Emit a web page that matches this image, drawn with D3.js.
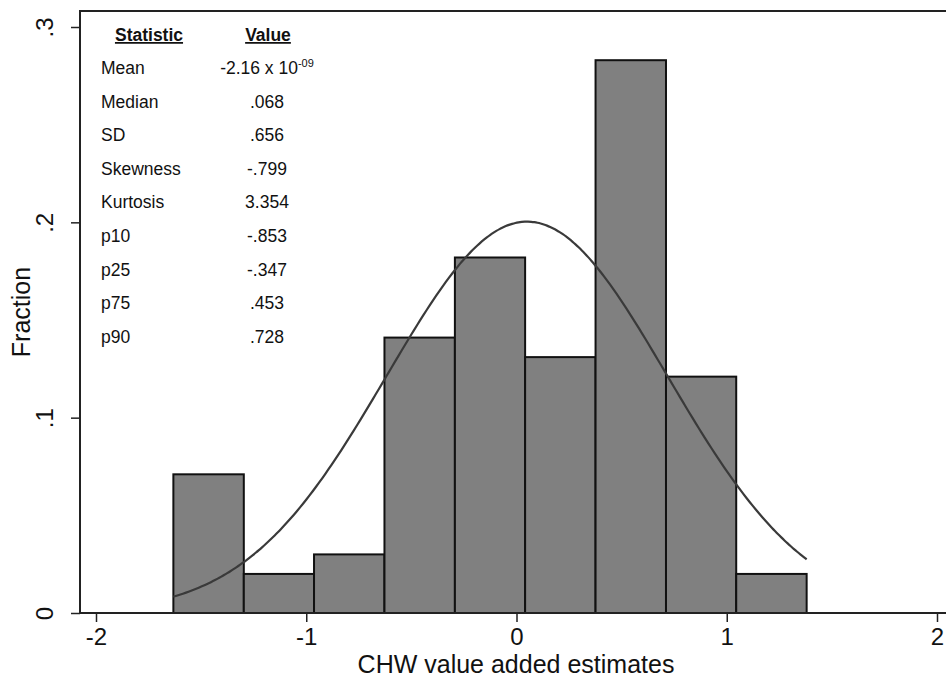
<!DOCTYPE html>
<html>
<head>
<meta charset="utf-8">
<script src="https://cdn.jsdelivr.net/npm/d3@7"></script>
<style>
  html, body { margin: 0; padding: 0; background: #fff; }
  svg { display: block; font-family: "Liberation Sans", Arial, Helvetica, sans-serif; }
</style>
</head>
<body>
<svg id="chart" width="946" height="681"></svg>
<script>
// Histogram bins (edges) and the fraction of observations in each bin
const binEdges = [-1.632, -1.297, -0.963, -0.628, -0.293, 0.041, 0.376, 0.711, 1.045, 1.380];
const fractions = [0.071, 0.020, 0.030, 0.141, 0.182, 0.131, 0.283, 0.121, 0.020];

// Normal density overlay parameters
const curveMean = 0.05;
const curveSD = 0.667;

// Axis ticks
const xTicks = [-2, -1, 0, 1, 2];
const xTickLabels = ["-2", "-1", "0", "1", "2"];
const yTicks = [0, 0.1, 0.2, 0.3];
const yTickLabels = ["0", ".1", ".2", ".3"];

// Summary statistics table
const statNames = ["Mean", "Median", "SD", "Skewness", "Kurtosis", "p10", "p25", "p75", "p90"];
const statValues = ["-2.16 x 10", ".068", ".656", "-.799", "3.354", "-.853", "-.347", ".453", ".728"];
const statExponents = ["-09", "", "", "", "", "", "", "", ""];

const svg = d3.select("#chart");
const W = 946, H = 681;
const frameLeft = 80, frameTop = 11, frameBottom = 613;

const x = d3.scaleLinear().domain([-2, 2]).range([96, 937]);
const y = d3.scaleLinear().domain([0, 0.3]).range([frameBottom, 27]);

// Bars
const bins = fractions.map((f, i) => ({ x0: binEdges[i], x1: binEdges[i + 1], f }));
svg.append("g").selectAll("rect").data(bins).join("rect")
  .attr("x", d => x(d.x0))
  .attr("y", d => y(d.f))
  .attr("width", d => x(d.x1) - x(d.x0))
  .attr("height", d => y(0) - y(d.f))
  .attr("fill", "#808080")
  .attr("stroke", "#111")
  .attr("stroke-width", 2);

// Normal curve scaled to the bin width, over the histogram's range
const bw = binEdges[1] - binEdges[0];
const lo = binEdges[0], hi = binEdges[binEdges.length - 1];
const curvePts = d3.range(0, 201).map(i => {
  const v = lo + (hi - lo) * i / 200;
  const z = (v - curveMean) / curveSD;
  return [v, bw * Math.exp(-0.5 * z * z) / (curveSD * Math.sqrt(2 * Math.PI))];
});
svg.append("path")
  .datum(curvePts)
  .attr("fill", "none")
  .attr("stroke", "#3a3a3a")
  .attr("stroke-width", 2.2)
  .attr("d", d3.line().x(d => x(d[0])).y(d => y(d[1])).curve(d3.curveBasis));

// Plot frame
svg.append("path")
  .attr("d", `M${W + 10},${frameTop}H${frameLeft}V${frameBottom}H${W + 10}`)
  .attr("fill", "none")
  .attr("stroke", "#222")
  .attr("stroke-width", 2);

// X axis
const xAxis = d3.axisBottom(x).tickValues(xTicks).tickSize(9).tickPadding(6)
  .tickFormat((d, i) => xTickLabels[i]);
const gx = svg.append("g").attr("transform", `translate(0,${frameBottom})`).call(xAxis);
gx.select(".domain").remove();
gx.selectAll(".tick line").attr("stroke", "#222").attr("stroke-width", 1.5);
gx.selectAll(".tick text").attr("font-size", 24).attr("fill", "#111")
  .attr("font-family", "'Liberation Sans', Arial, sans-serif");

// Y axis, labels rotated
const yAxis = d3.axisLeft(y).tickValues(yTicks).tickSize(9).tickPadding(0)
  .tickFormat((d, i) => yTickLabels[i]);
const gy = svg.append("g").attr("transform", `translate(${frameLeft},0)`).call(yAxis);
gy.select(".domain").remove();
gy.selectAll(".tick line").attr("stroke", "#222").attr("stroke-width", 1.5);
gy.selectAll(".tick text")
  .attr("x", null).attr("dy", null)
  .attr("transform", "translate(-27,0) rotate(-90)")
  .attr("text-anchor", "middle")
  .attr("font-size", 24).attr("fill", "#111")
  .attr("font-family", "'Liberation Sans', Arial, sans-serif");

// Axis titles
svg.append("text")
  .attr("x", 516).attr("y", 673)
  .attr("text-anchor", "middle")
  .attr("font-size", 25).attr("fill", "#111")
  .text("CHW value added estimates");
svg.append("text")
  .attr("transform", "translate(30,312) rotate(-90)")
  .attr("text-anchor", "middle")
  .attr("font-size", 25).attr("fill", "#111")
  .text("Fraction");

// Statistics table
const tbl = svg.append("g").attr("font-size", 17.5).attr("fill", "#111");
tbl.append("text").attr("x", 149).attr("y", 41).attr("text-anchor", "middle")
  .attr("font-weight", "bold").attr("text-decoration", "underline").text("Statistic");
tbl.append("text").attr("x", 268).attr("y", 41).attr("text-anchor", "middle")
  .attr("font-weight", "bold").attr("text-decoration", "underline").text("Value");

const rowY = i => 74 + i * 33.6;
statNames.forEach((name, i) => {
  tbl.append("text").attr("x", 101).attr("y", rowY(i)).text(name);
  const t = tbl.append("text").attr("x", 267).attr("y", rowY(i)).attr("text-anchor", "middle");
  t.append("tspan").text(statValues[i]);
  if (statExponents[i]) {
    t.append("tspan").attr("dy", -7).attr("font-size", 11).text(statExponents[i]);
  }
});
</script>
</body>
</html>
